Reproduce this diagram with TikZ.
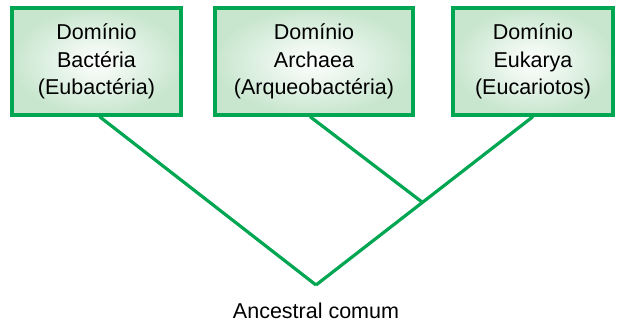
\documentclass[tikz,border=0pt]{standalone}
\usepackage{fontspec}
\setmainfont{Liberation Sans}
\definecolor{domgreen}{RGB}{0,166,81}
\definecolor{domfill}{RGB}{200,230,206}

\begin{document}
\begin{tikzpicture}[x=1pt,y=-1pt]
    \useasboundingbox (0,0) rectangle (625,325);

        \begin{scope}[every node/.style={draw=domgreen,line width=3.2pt,inner color=white,outer color=domfill,
            minimum height=107pt,inner sep=0pt,align=center,font=\fontsize{21.5}{27.5}\selectfont}]
            \node[minimum width=169pt] (bac) at (96.5,61.5) {Domínio\\Bactéria\\(Eubactéria)};
            \node[minimum width=198pt] (arc) at (314,61.5) {Domínio\\Archaea\\(Arqueobactéria)};
            \node[minimum width=160pt] (euk) at (533,61.5) {Domínio\\Eukarya\\(Eucariotos)};
        \end{scope}

        \coordinate (root) at (316,285);
        \coordinate (junc) at (422,202);

        \begin{scope}[every path/.style={draw=domgreen,line width=3.2pt}]
            \draw ([xshift=3pt]bac.south) -- (root);
            \draw ([xshift=-4pt]arc.south) -- (junc);
            \draw (euk.south) -- (root);
        \end{scope}

        \node[font=\fontsize{21.5}{27.5}\selectfont] (anc) at (316,311) {Ancestral comum};

    \end{tikzpicture}
\end{document}
